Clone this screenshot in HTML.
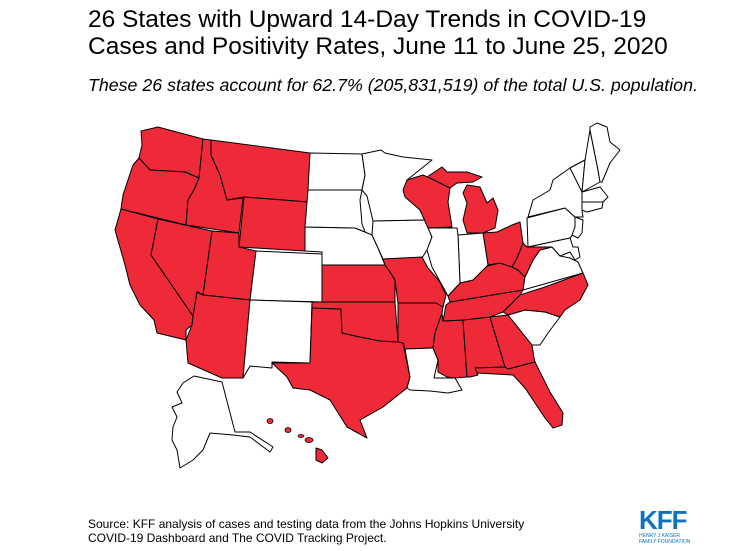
<!DOCTYPE html>
<html><head><meta charset="utf-8"><style>
body{margin:0;width:735px;height:551px;background:#fff;overflow:hidden;font-family:"Liberation Sans",Arial,sans-serif;position:relative}
.t{position:absolute;left:88px;top:6px;font-size:24.5px;line-height:27px;color:#000}
.s{position:absolute;left:88px;top:75px;font-size:17.8px;font-style:italic;color:#000}
.src{position:absolute;left:88px;top:517px;font-size:12px;line-height:14px;color:#000}
svg{position:absolute;left:0;top:0}
polygon{stroke:#000;stroke-width:1;stroke-linejoin:round}
.r{fill:#ee2a39}.w{fill:#fff}
</style></head><body>
<div class="t">26 States with Upward 14-Day Trends in COVID-19<br>Cases and Positivity Rates, June 11 to June 25, 2020</div>
<div class="s">These 26 states account for 62.7% (205,831,519) of the total U.S. population.</div>
<svg width="735" height="551">
<polygon class="r" points="141,131 158,127 203,139 199,178 185,172 150,170 139,158 142,145"/>
<polygon class="r" points="139,158 150,170 185,172 199,178 194,190 188,200 186,225 121,209 123,195 133,165"/>
<polygon class="r" points="121,209 158,219 151,255 193,316 192,325 186,330 186,340 157,333 154,320 140,305 130,285 125,265 115,230"/>
<polygon class="r" points="158,219 212,231 203,295 197,292 193,316 151,255"/>
<polygon class="r" points="203,139 211,140 211,155 220,175 227,200 243,198 239,233 186,225 188,200 194,190 199,178"/>
<polygon class="r" points="211,140 310,153 308,202 244,197 227,200 220,175 211,155"/>
<polygon class="r" points="244,197 308,202 305,251 239,247"/>
<polygon class="r" points="212,231 239,233 239,247 256,251 250,300 203,295"/>
<polygon class="r" points="203,295 250,300 243,378 222,378 188,363 186,340 192,325 193,316 197,292"/>
<polygon class="w" points="256,251 322,254 322,302 250,300"/>
<polygon class="w" points="250,300 312,302 310,363 272,362 272,368 250,366 243,378"/>
<polygon class="r" points="312,308 341,309 342,333 360,337 380,341 398,342 403,343 410,377 407,388 383,407 360,420 367,438 347,427 330,400 310,390 293,388 287,377 272,363 310,363"/>
<polygon class="r" points="312,302 395,302 398,342 380,341 360,337 342,333 341,309 312,308"/>
<polygon class="r" points="322,265 385,265 390,272 395,280 395,302 322,302"/>
<polygon class="w" points="305,227 355,228 365,232 372,235 378,248 385,265 322,265 322,252 305,251"/>
<polygon class="w" points="308,190 362,190 360,200 362,224 365,232 355,228 305,227"/>
<polygon class="w" points="310,153 362,154 365,175 362,190 308,190"/>
<polygon class="w" points="362,154 381,150 385,153 403,157 432,160 407,180 405,192 420,210 425,220 373,221 367,196 362,190 365,175"/>
<polygon class="w" points="373,221 425,220 432,237 427,250 422,258 383,259 378,248 372,235"/>
<polygon class="r" points="383,259 422,257 428,268 440,282 446,295 443,307 435,307 436,303 398,303 395,280 390,272 385,265"/>
<polygon class="r" points="398,303 436,303 443,307 442,313 435,333 433,348 405,349 403,343 398,342"/>
<polygon class="w" points="405,349 433,348 438,360 434,378 455,378 462,390 448,393 430,391 410,390 407,388 410,377"/>
<polygon class="r" points="443,321 463,320 467,377 455,378 447,377 438,372 438,360 433,348 435,333 442,313"/>
<polygon class="r" points="463,320 490,317 505,367 477,368 478,375 470,377 467,377"/>
<polygon class="r" points="490,317 508,315 520,330 532,345 534,358 535,362 508,369 505,367"/>
<polygon class="r" points="475,368 505,367 508,369 535,362 540,372 550,392 563,413 562,425 553,428 545,418 533,400 525,388 513,375 495,374 477,373"/>
<polygon class="w" points="508,315 525,310 545,312 560,317 548,333 540,345 532,345 520,330"/>
<polygon class="r" points="503,312 520,295 545,287 583,273 588,285 580,300 565,310 560,317 545,312 525,310 508,315"/>
<polygon class="r" points="443,321 446,305 450,302 523,290 520,295 503,312 490,317 463,320"/>
<polygon class="r" points="448,296 460,283 473,280 483,267 500,263 512,267 518,270 525,277 523,290 450,302"/>
<polygon class="w" points="523,290 525,277 533,260 540,250 552,247 560,256 570,258 578,262 583,273"/>
<polygon class="r" points="523,243 527,247 537,243 547,243 552,247 540,250 533,260 525,277 518,270 512,267 517,258"/>
<polygon class="r" points="483,233 497,232 512,225 520,222 523,243 517,258 512,267 500,263 488,265"/>
<polygon class="w" points="458,235 483,233 488,265 473,280 460,283"/>
<polygon class="w" points="428,228 457,228 458,235 460,283 448,296 443,287 432,267 427,250 432,237"/>
<polygon class="r" points="403,190 407,180 423,175 430,178 450,188 448,202 452,227 428,228 420,210 405,197"/>
<polygon class="r" points="427,177 442,167 447,172 467,172 482,177 473,182 457,183 450,188 430,178"/>
<polygon class="r" points="467,185 480,187 487,203 493,198 498,210 495,228 483,233 467,233 463,220 467,203 463,193"/>
<polygon class="w" points="527,218 565,208 575,217 577,230 570,238 528,247"/>
<polygon class="w" points="528,217 533,200 550,190 553,180 570,168 585,160 582,190 582,210 583,217 575,217 565,208"/>
<polygon class="w" points="575,217 583,220 582,233 578,238 572,235 575,227"/>
<polygon class="w" points="528,247 570,238 573,247 578,247 580,257 575,260 570,252 560,256 552,247"/>
<polygon class="w" points="570,168 585,160 582,192"/>
<polygon class="w" points="585,160 590,130 598,170 600,182 582,192"/>
<polygon class="w" points="590,127 597,123 607,127 610,142 620,150 610,163 602,182 600,182 598,170 590,130"/>
<polygon class="w" points="582,192 600,187 608,197 603,202 582,202"/>
<polygon class="w" points="582,202 603,202 602,208 587,212 582,210"/>
<polygon class="w" points="194,376 222,382 235,432 250,432 273,447 270,452 250,437 233,435 210,433 203,450 193,460 180,468 177,450 172,440 173,427 177,417 172,407 182,403 177,392 183,383"/>
<g class="r" stroke="#000" stroke-width="0.8">
<ellipse cx="270" cy="421" rx="3" ry="2.5"/><ellipse cx="288" cy="430" rx="3" ry="2.5"/><ellipse cx="301" cy="436" rx="3" ry="1.5"/><ellipse cx="309" cy="440" rx="4" ry="2.5"/>
<polygon points="316,448 322,450 328,458 322,463 316,460"/>
</g>
</svg>
<div class="src">Source: KFF analysis of cases and testing data from the Johns Hopkins University<br>COVID-19 Dashboard and The COVID Tracking Project.</div>
<div style="position:absolute;left:639px;top:507px;color:#0b74bd;font-weight:bold;font-size:26px;letter-spacing:-1px;line-height:26px">KFF</div>
<div style="position:absolute;left:639px;top:533px;color:#0b74bd;font-size:5px;line-height:6px">HENRY J KAISER<br>FAMILY FOUNDATION</div>
</body></html>
